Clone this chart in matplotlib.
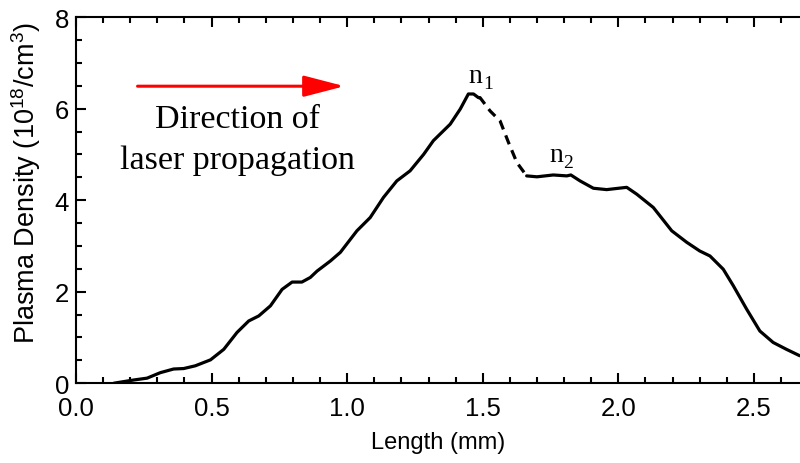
import matplotlib
matplotlib.use("Agg")
import matplotlib.pyplot as plt
from matplotlib.ticker import MultipleLocator

# Solid part (rising edge up to n1)
x_rise = [0.14, 0.213, 0.262, 0.311, 0.36, 0.397, 0.44, 0.496, 0.545, 0.594, 0.637,
          0.674, 0.717, 0.76, 0.797, 0.833, 0.864, 0.889, 0.938, 0.975, 1.036, 1.085,
          1.134, 1.183, 1.232, 1.282, 1.318, 1.38, 1.417, 1.447, 1.466, 1.484]
y_rise = [0.0, 0.07, 0.11, 0.23, 0.31, 0.32, 0.38, 0.51, 0.74, 1.11, 1.36,
          1.47, 1.69, 2.05, 2.21, 2.21, 2.31, 2.45, 2.67, 2.86, 3.33, 3.62,
          4.06, 4.42, 4.64, 5.0, 5.30, 5.66, 5.99, 6.32, 6.32, 6.24]

# Dashed part (between n1 and n2)
x_dash = [1.484, 1.49, 1.527, 1.564, 1.595, 1.626, 1.662]
y_dash = [6.24, 6.24, 5.95, 5.73, 5.26, 4.82, 4.53]

# Solid part (plateau n2 and falling edge)
x_fall = [1.662, 1.70, 1.76, 1.81, 1.825, 1.859, 1.908, 1.957, 2.031, 2.068, 2.129,
          2.197, 2.252, 2.30, 2.338, 2.387, 2.424, 2.473, 2.522, 2.571, 2.62, 2.669]
y_fall = [4.53, 4.51, 4.55, 4.53, 4.55, 4.42, 4.26, 4.23, 4.28, 4.13, 3.84,
          3.33, 3.08, 2.89, 2.78, 2.49, 2.13, 1.62, 1.14, 0.89, 0.74, 0.60]

xlabel = "Length (mm)"
ylabel = "Plasma Density (10$^{18}$/cm$^3$)"

plt.rcParams['font.family'] = ['Liberation Sans', 'DejaVu Sans']
plt.rcParams['mathtext.fontset'] = 'custom'
plt.rcParams['mathtext.rm'] = 'Liberation Sans'
plt.rcParams['mathtext.it'] = 'Liberation Sans'

fig = plt.figure(figsize=(8, 4.64), dpi=100)
ax = fig.add_axes([0.095, 0.172, 0.905, 0.789])

lw = 2.3
ax.plot(x_rise, y_rise, color='black', lw=lw, solid_capstyle='round', solid_joinstyle='round')
ax.plot(x_dash, y_dash, color='black', lw=lw, ls=(0, (3, 2)))
ax.plot(x_fall, y_fall, color='black', lw=lw, solid_capstyle='round', solid_joinstyle='round')

ax.set_xlim(0, 2.67)
ax.set_ylim(0, 8)
ax.xaxis.set_minor_locator(MultipleLocator(0.1))
ax.yaxis.set_minor_locator(MultipleLocator(0.5))
ax.set_xticks([0.0, 0.5, 1.0, 1.5, 2.0, 2.5])
ax.set_xticklabels(['0.0', '0.5', '1.0', '1.5', '2.0', '2.5'])
ax.set_yticks([0, 2, 4, 6, 8])
ax.set_yticklabels(['0', '2', '4', '6', '8'])

ax.tick_params(which='both', direction='in', top=True, right=False, width=1.5, labelsize=18.5)
ax.tick_params(axis='x', pad=9)
ax.tick_params(axis='y', pad=5)
ax.tick_params(which='major', length=7)
ax.tick_params(which='minor', length=4)
for side in ['left', 'bottom', 'top']:
    ax.spines[side].set_linewidth(1.5)
ax.spines['right'].set_visible(False)

ax.set_xlabel(xlabel, fontsize=17, labelpad=8)
ax.set_ylabel(ylabel, fontsize=19.5)
ax.yaxis.set_label_coords(-0.0456, 0.55)

serif = ['Liberation Serif', 'DejaVu Serif']
ax.annotate('', xy=(0.99, 6.49), xytext=(0.227, 6.49),
            arrowprops=dict(arrowstyle='-|>,head_length=2.5,head_width=0.65', color='red', lw=2.2,
                            shrinkA=0, shrinkB=0))
ax.text(0.595, 5.60, 'Direction of', fontsize=24.5, family=serif, ha='center', va='baseline')
ax.text(0.597, 4.70, 'laser propagation', fontsize=24.5, family=serif, ha='center', va='baseline')

ax.text(1.498, 6.58, 'n', fontsize=20, family=serif, ha='right', va='baseline')
ax.text(1.500, 6.45, '1', fontsize=14, family=serif, ha='left', va='baseline')
ax.text(1.796, 4.85, 'n', fontsize=20, family=serif, ha='right', va='baseline')
ax.text(1.798, 4.72, '2', fontsize=14, family=serif, ha='left', va='baseline')

fig.savefig('out.png', dpi=100)
